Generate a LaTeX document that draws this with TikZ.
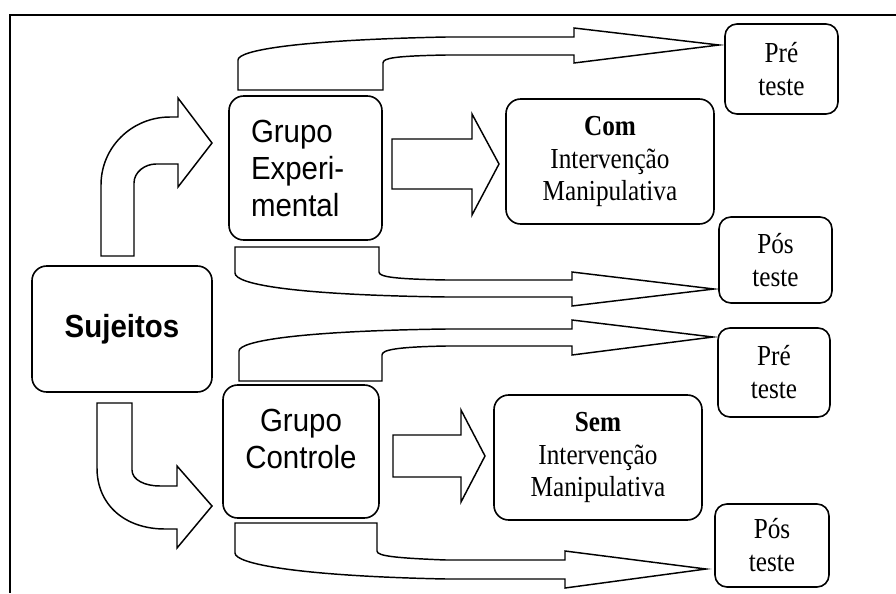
\documentclass[tikz,border=0pt]{standalone}
\usepackage{fontspec}
\usepackage{tikz}
\usetikzlibrary{positioning}
\newfontfamily\boxsans{Liberation Sans}[FakeStretch=0.92]
\newfontfamily\boxserif{Liberation Serif}[FakeStretch=0.87]

\begin{document}
\begin{tikzpicture}[x=0.75pt, y=-0.75pt,
  grp/.style={draw, rounded corners=11pt, line width=1.2pt, inner sep=0pt, font=\boxsans\fontsize{24}{27.75}\selectfont},
  trt/.style={draw, rounded corners=11pt, line width=1.2pt, inner sep=0pt, align=center, minimum width=156pt, minimum height=93.75pt, font=\boxserif\fontsize{21.75}{24.4}\selectfont},
  tst/.style={draw, rounded corners=9pt, line width=1.2pt, inner sep=0pt, align=center, font=\boxserif\fontsize{21.75}{24.7}\selectfont},
  blk/.style={draw, line width=1.1pt, line join=miter},
]
  \useasboundingbox (0,0) rectangle (896,593);
  % Frame
  \draw[line width=2.2pt] (896,15) -- (10,15) -- (10,593);

  % Groups
  \node[grp, font=\boxsans\bfseries\fontsize{24}{27.75}\selectfont, minimum width=135pt, minimum height=94.5pt] (suj) at (122,329) {Sujeitos};
  \node[grp, align=left, text width=81.75pt, inner xsep=16.5pt, minimum height=108pt] (exp) at (305.5,168) {Grupo\\Experi-\\mental};
  \node[grp, align=center, minimum width=117pt, minimum height=99.75pt, text depth=19.5pt] (ctrl) at (301,451.5) {Grupo\\Controle};

  % Treatments
  \node[trt] (com) at (610,161.5) {\textbf{Com}\\Intervenção\\Manipulativa};
  \node[trt] (sem) at (598,457.5) {\textbf{Sem}\\Intervenção\\Manipulativa};

  % Tests
  \node[tst, minimum width=84.75pt, minimum height=67.5pt] (pre1) at (781.5,69) {Pré\\teste};
  \node[tst, minimum width=84.75pt, minimum height=64.5pt] (pos1) at (775.5,260) {Pós\\teste};
  \node[tst, minimum width=84pt, minimum height=66.75pt] (pre2) at (774,372.5) {Pré\\teste};
  \node[tst, minimum width=85.5pt, minimum height=62.25pt] (pos2) at (772,545.5) {Pós\\teste};

  % Curved arrows from Sujeitos
  \draw[blk] (101,256) -- (101,185) .. controls (101,147) and (132,117) .. (170,117) -- (178,117) -- (178,98) -- (212,143)
    -- (178,187) -- (178,164) -- (156,164) .. controls (145,164) and (134,172) .. (134,183) -- (134,256) -- cycle;
  \draw[blk] (97,403) -- (97,468) .. controls (97,505) and (125,529) .. (165,529) -- (177,529) -- (177,548) -- (212,506)
    -- (177,466) -- (177,486) -- (160,486) .. controls (145,486) and (132,480) .. (132,470) -- (132,403) -- cycle;

  % Group to treatment
  \draw[blk] (392,139) -- (472,139) -- (472,114) -- (499,164) -- (472,215) -- (472,189) -- (392,189) -- cycle;
  \draw[blk] (393,435) -- (461,435) -- (461,410) -- (485,456) -- (461,502) -- (461,477) -- (393,477) -- cycle;

  % Group to tests
  \draw[blk] (238,90) -- (238,60) .. controls (238,50) and (300,40) .. (446,37) -- (574,37) -- (574,28) -- (719,45)
    -- (574,63) -- (574,55) -- (446,55) .. controls (395,56) and (383,58) .. (383,63) -- (383,90) -- cycle;
  \draw[blk] (235,247) -- (235,273) .. controls (235,285) and (300,295) .. (446,297) -- (572,297) -- (572,306) -- (714,289)
    -- (572,272) -- (572,280) -- (446,280) .. controls (395,279) and (379,277) .. (379,272) -- (379,247) -- cycle;
  \draw[blk] (239,381) -- (239,351) .. controls (239,341) and (300,331) .. (446,329) -- (572,329) -- (572,320) -- (713,337)
    -- (572,355) -- (572,346) -- (446,346) .. controls (395,347) and (382,350) .. (382,355) -- (382,381) -- cycle;
  \draw[blk] (235,523) -- (235,553) .. controls (235,564) and (300,576) .. (446,579) -- (565,579) -- (565,588) -- (706,569)
    -- (565,551) -- (565,560) -- (446,560) .. controls (395,558) and (377,556) .. (377,551) -- (377,523) -- cycle;
\end{tikzpicture}
\end{document}
